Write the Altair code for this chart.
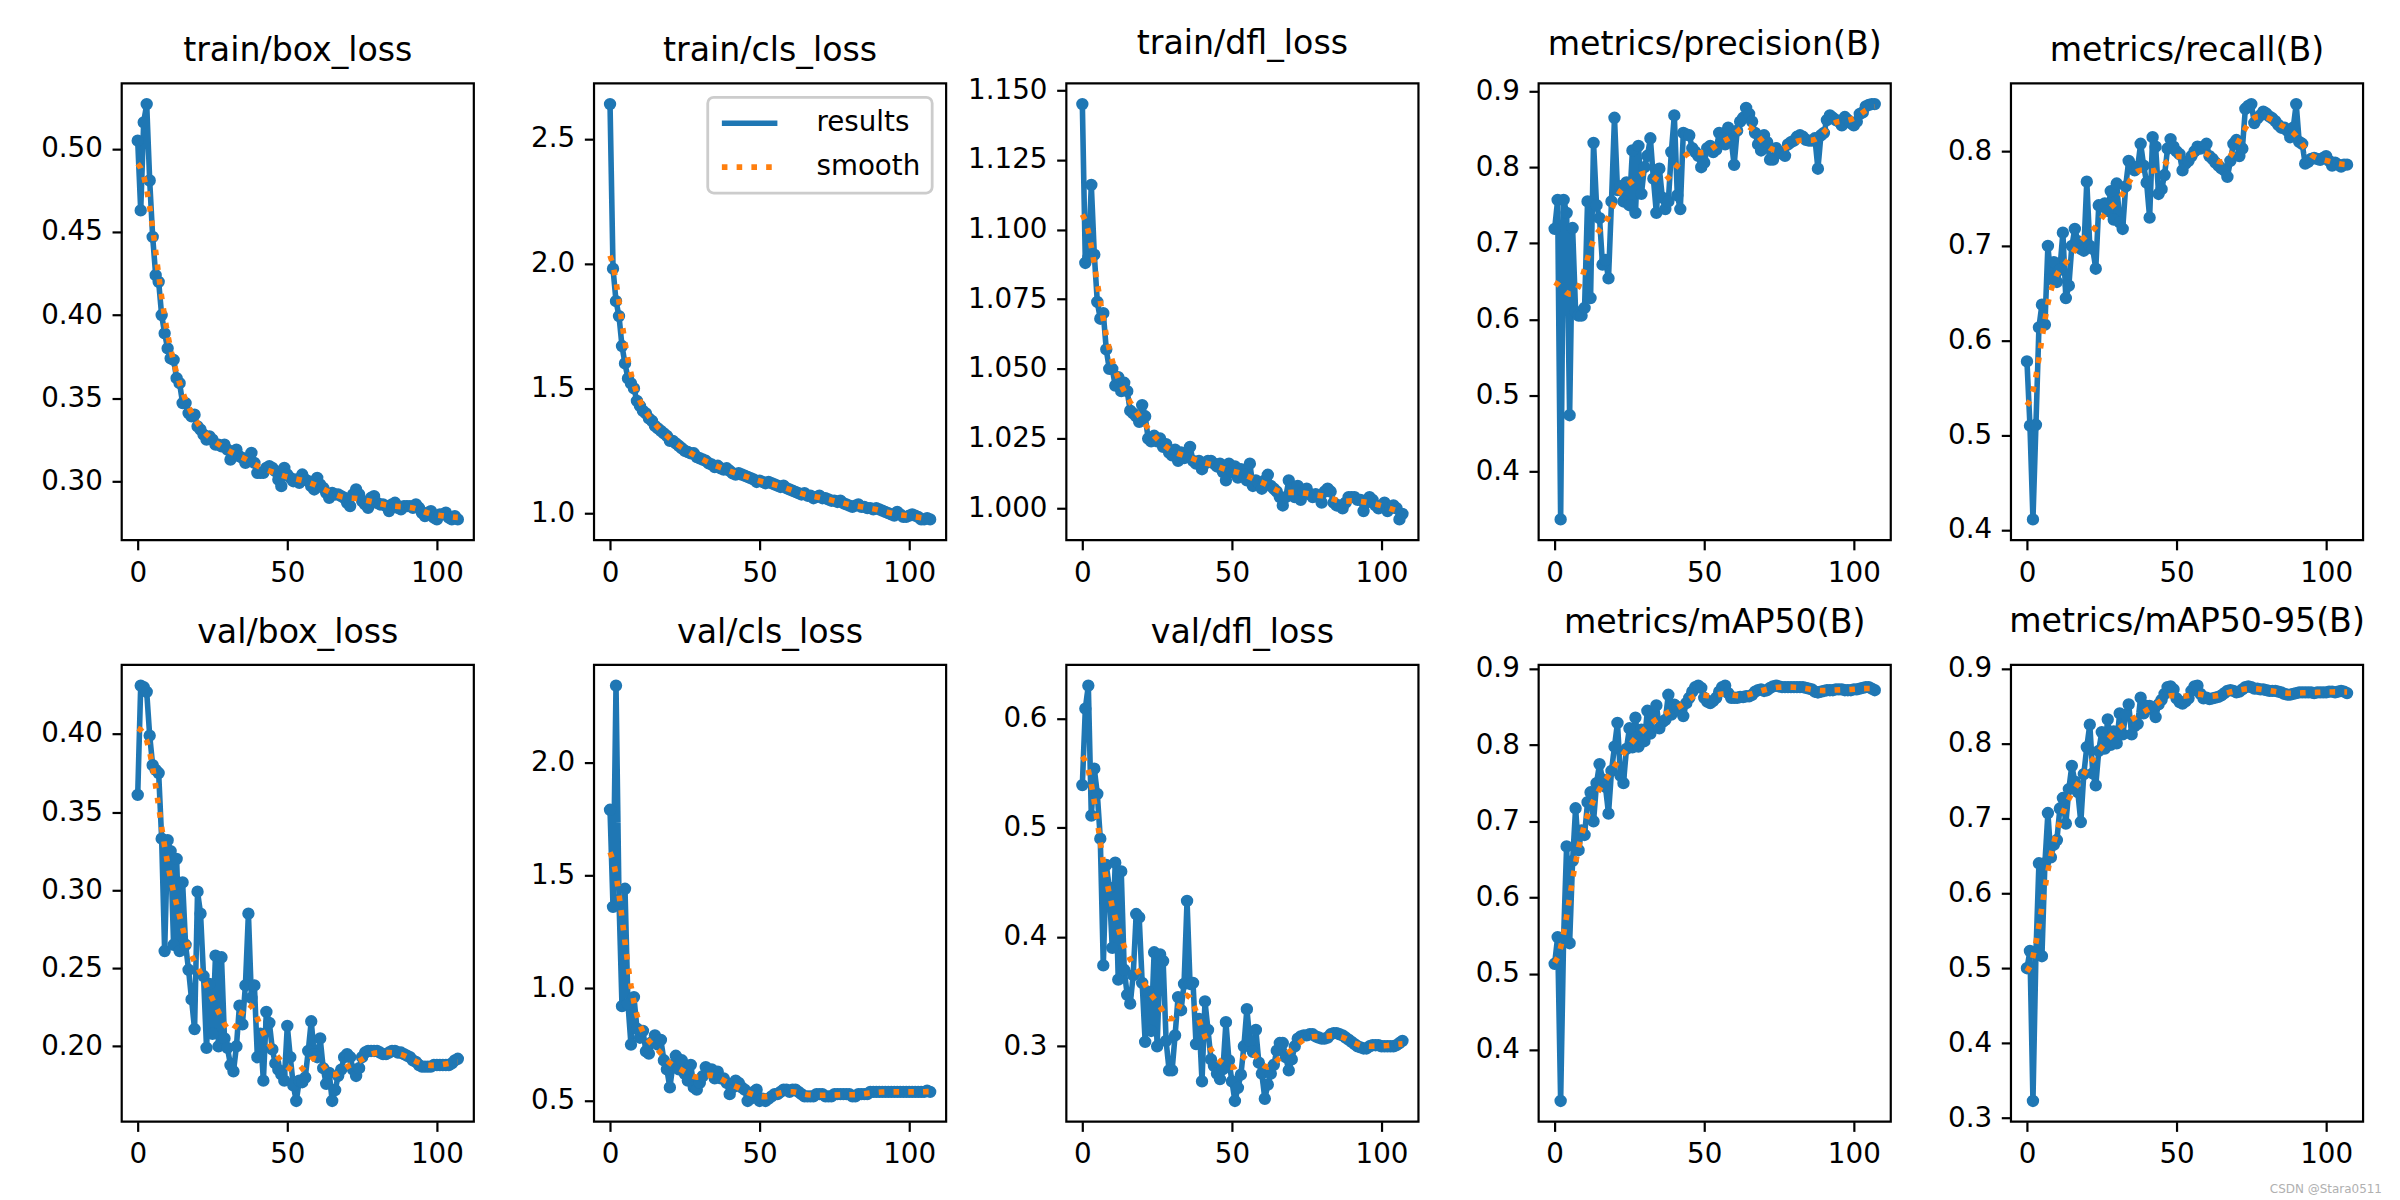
import altair as alt
import numpy as np
import pandas as pd

# ---------------- data ----------------
epochs = list(range(108))

titles = [
    "train/box_loss", "train/cls_loss", "train/dfl_loss",
    "metrics/precision(B)", "metrics/recall(B)",
    "val/box_loss", "val/cls_loss", "val/dfl_loss",
    "metrics/mAP50(B)", "metrics/mAP50-95(B)",
]

train_box = [0.505,0.463,0.516,0.527,0.481,0.447,0.424,0.420,0.400,0.389,
 0.380,0.374,0.373,0.362,0.359,0.347,0.347,0.341,0.339,0.340,
 0.333,0.331,0.328,0.325,0.327,0.325,0.322,0.322,0.321,0.322,
 0.319,0.313,0.316,0.319,0.315,0.314,0.311,0.314,0.317,0.311,
 0.305,0.305,0.305,0.308,0.309,0.308,0.306,0.301,0.297,0.308,
 0.304,0.302,0.300,0.301,0.299,0.304,0.301,0.300,0.297,0.295,
 0.302,0.298,0.296,0.293,0.290,0.293,0.292,0.292,0.291,0.290,
 0.287,0.285,0.292,0.295,0.292,0.288,0.286,0.284,0.290,0.291,
 0.287,0.286,0.286,0.285,0.282,0.286,0.287,0.284,0.283,0.285,
 0.285,0.285,0.284,0.286,0.284,0.281,0.279,0.281,0.282,0.278,
 0.277,0.280,0.280,0.281,0.278,0.277,0.279,0.277]

train_cls = [2.64,1.98,1.85,1.79,1.67,1.60,1.54,1.52,1.50,1.45,
 1.43,1.41,1.40,1.38,1.37,1.35,1.34,1.33,1.32,1.31,
 1.29,1.29,1.28,1.27,1.26,1.25,1.245,1.24,1.24,1.225,
 1.22,1.215,1.21,1.20,1.195,1.185,1.19,1.18,1.175,1.18,
 1.17,1.16,1.155,1.16,1.155,1.15,1.145,1.14,1.135,1.125,
 1.13,1.125,1.12,1.125,1.12,1.115,1.11,1.105,1.11,1.10,
 1.095,1.09,1.085,1.08,1.075,1.08,1.07,1.07,1.06,1.065,
 1.07,1.06,1.06,1.055,1.05,1.05,1.045,1.05,1.04,1.035,
 1.03,1.025,1.03,1.035,1.025,1.025,1.02,1.02,1.015,1.02,
 1.015,1.01,1.005,1.00,0.995,0.99,1.005,0.995,0.985,0.985,
 0.99,0.995,0.99,0.985,0.975,0.975,0.98,0.975]

train_dfl = [1.145,1.088,1.090,1.116,1.091,1.074,1.068,1.070,1.057,1.050,
 1.050,1.044,1.047,1.042,1.045,1.042,1.035,1.034,1.033,1.031,
 1.037,1.033,1.025,1.024,1.026,1.024,1.025,1.022,1.023,1.020,
 1.019,1.021,1.017,1.020,1.018,1.019,1.022,1.017,1.016,1.017,
 1.014,1.016,1.017,1.017,1.016,1.015,1.016,1.013,1.010,1.016,
 1.013,1.015,1.011,1.014,1.012,1.010,1.016,1.008,1.010,1.009,
 1.007,1.010,1.012,1.008,1.007,1.006,1.004,1.001,1.004,1.010,
 1.007,1.004,1.008,1.003,1.006,1.007,1.005,1.004,1.005,1.004,
 1.002,1.006,1.007,1.006,1.002,1.001,1.001,1.000,1.002,1.004,
 1.004,1.004,1.003,1.003,0.999,1.002,1.004,1.003,1.001,1.000,
 1.001,1.002,0.999,1.000,1.001,1.000,0.996,0.998]

precision = [0.719,0.757,0.337,0.757,0.740,0.474,0.720,0.610,0.605,0.605,
 0.615,0.755,0.628,0.832,0.750,0.733,0.672,0.678,0.654,0.755,
 0.865,0.770,0.775,0.755,0.780,0.750,0.822,0.740,0.828,0.765,
 0.800,0.815,0.838,0.785,0.740,0.798,0.760,0.745,0.755,0.820,
 0.868,0.763,0.745,0.845,0.843,0.842,0.825,0.820,0.815,0.800,
 0.806,0.825,0.828,0.820,0.823,0.845,0.838,0.830,0.852,0.836,
 0.803,0.848,0.860,0.865,0.878,0.870,0.860,0.845,0.830,0.822,
 0.842,0.833,0.810,0.810,0.825,0.820,0.818,0.815,0.830,0.833,
 0.835,0.840,0.842,0.840,0.836,0.835,0.835,0.838,0.798,0.842,
 0.845,0.862,0.868,0.865,0.862,0.860,0.855,0.866,0.862,0.858,
 0.855,0.860,0.870,0.872,0.880,0.882,0.883,0.883]

recall = [0.578,0.510,0.411,0.511,0.614,0.638,0.617,0.700,0.665,0.683,
 0.662,0.675,0.714,0.645,0.658,0.700,0.718,0.705,0.697,0.695,
 0.768,0.700,0.697,0.676,0.743,0.742,0.745,0.737,0.758,0.728,
 0.766,0.725,0.718,0.763,0.790,0.785,0.780,0.783,0.808,0.785,
 0.767,0.730,0.815,0.805,0.755,0.760,0.775,0.803,0.813,0.805,
 0.800,0.797,0.780,0.787,0.790,0.795,0.800,0.805,0.803,0.805,
 0.808,0.795,0.792,0.788,0.785,0.782,0.780,0.773,0.790,0.808,
 0.812,0.795,0.803,0.845,0.848,0.850,0.830,0.835,0.838,0.842,
 0.840,0.837,0.835,0.832,0.828,0.825,0.825,0.822,0.815,0.825,
 0.850,0.810,0.808,0.787,0.789,0.792,0.793,0.792,0.791,0.793,
 0.795,0.790,0.785,0.788,0.786,0.784,0.786,0.786]

val_box = [0.361,0.431,0.430,0.427,0.399,0.380,0.377,0.375,0.333,0.261,
 0.332,0.325,0.265,0.320,0.261,0.305,0.265,0.249,0.230,0.211,
 0.299,0.285,0.245,0.199,0.240,0.208,0.258,0.200,0.257,0.205,
 0.199,0.188,0.184,0.200,0.226,0.214,0.239,0.285,0.231,0.239,
 0.193,0.208,0.178,0.222,0.215,0.198,0.189,0.185,0.182,0.178,
 0.213,0.193,0.175,0.165,0.178,0.177,0.180,0.197,0.216,0.195,
 0.193,0.205,0.186,0.176,0.183,0.165,0.172,0.181,0.185,0.193,
 0.195,0.193,0.185,0.181,0.186,0.193,0.196,0.197,0.197,0.197,
 0.197,0.196,0.195,0.195,0.196,0.197,0.197,0.196,0.196,0.195,
 0.194,0.193,0.191,0.190,0.188,0.187,0.187,0.187,0.187,0.188,
 0.188,0.188,0.188,0.188,0.188,0.189,0.191,0.192]

val_cls = [1.79,1.36,2.34,1.39,0.92,1.44,0.93,0.75,0.96,0.82,
 0.78,0.81,0.72,0.71,0.76,0.79,0.75,0.77,0.68,0.64,
 0.56,0.66,0.70,0.64,0.68,0.62,0.59,0.66,0.56,0.55,
 0.58,0.61,0.65,0.63,0.64,0.60,0.63,0.60,0.60,0.58,
 0.53,0.56,0.59,0.58,0.56,0.55,0.50,0.51,0.54,0.55,
 0.50,0.51,0.50,0.51,0.52,0.53,0.53,0.54,0.55,0.55,
 0.54,0.55,0.55,0.54,0.53,0.52,0.52,0.52,0.52,0.53,
 0.53,0.53,0.52,0.52,0.52,0.53,0.53,0.53,0.53,0.53,
 0.53,0.52,0.52,0.53,0.53,0.53,0.53,0.54,0.54,0.54,
 0.54,0.54,0.54,0.54,0.54,0.54,0.54,0.54,0.54,0.54,
 0.54,0.54,0.54,0.54,0.54,0.54,0.545,0.54]

val_dfl = [0.539,0.609,0.630,0.511,0.554,0.531,0.490,0.374,0.466,0.445,
 0.390,0.468,0.361,0.460,0.370,0.347,0.339,0.365,0.421,0.418,
 0.358,0.304,0.350,0.314,0.386,0.300,0.384,0.378,0.305,0.278,
 0.278,0.310,0.345,0.333,0.357,0.433,0.357,0.358,0.302,0.325,
 0.268,0.341,0.315,0.288,0.282,0.275,0.270,0.279,0.322,0.287,
 0.268,0.250,0.262,0.274,0.300,0.334,0.305,0.295,0.315,0.285,
 0.275,0.252,0.265,0.275,0.283,0.296,0.303,0.303,0.290,0.278,
 0.288,0.300,0.307,0.309,0.310,0.310,0.311,0.311,0.309,0.308,
 0.307,0.307,0.308,0.311,0.312,0.312,0.311,0.310,0.308,0.306,
 0.304,0.302,0.300,0.299,0.298,0.298,0.300,0.301,0.301,0.301,
 0.300,0.300,0.300,0.300,0.300,0.301,0.303,0.305]

map50 = [0.513,0.548,0.333,0.548,0.667,0.540,0.648,0.717,0.662,0.688,
 0.682,0.725,0.738,0.700,0.750,0.775,0.755,0.745,0.710,0.766,
 0.798,0.829,0.760,0.750,0.795,0.822,0.797,0.836,0.798,0.820,
 0.805,0.845,0.815,0.840,0.852,0.822,0.830,0.833,0.866,0.840,
 0.853,0.850,0.845,0.838,0.855,0.862,0.870,0.876,0.878,0.875,
 0.862,0.857,0.855,0.858,0.862,0.870,0.876,0.878,0.868,0.862,
 0.862,0.862,0.863,0.863,0.864,0.864,0.866,0.870,0.872,0.873,
 0.871,0.872,0.875,0.877,0.878,0.877,0.876,0.876,0.876,0.876,
 0.876,0.876,0.876,0.876,0.875,0.874,0.873,0.870,0.869,0.870,
 0.871,0.872,0.872,0.872,0.873,0.873,0.873,0.872,0.872,0.872,
 0.873,0.873,0.874,0.875,0.876,0.876,0.874,0.872]

map5095 = [0.500,0.523,0.323,0.520,0.640,0.516,0.640,0.707,0.648,0.665,
 0.671,0.713,0.727,0.693,0.739,0.770,0.749,0.735,0.695,0.759,
 0.795,0.825,0.760,0.744,0.790,0.815,0.793,0.832,0.798,0.816,
 0.800,0.840,0.812,0.838,0.852,0.812,0.823,0.826,0.861,0.840,
 0.850,0.850,0.845,0.835,0.852,0.858,0.866,0.875,0.876,0.872,
 0.860,0.855,0.853,0.856,0.860,0.870,0.876,0.877,0.866,0.860,
 0.861,0.859,0.860,0.861,0.862,0.864,0.867,0.870,0.871,0.870,
 0.868,0.869,0.872,0.875,0.876,0.875,0.873,0.873,0.872,0.872,
 0.871,0.870,0.870,0.870,0.869,0.868,0.866,0.865,0.865,0.866,
 0.867,0.868,0.868,0.868,0.868,0.868,0.867,0.868,0.868,0.868,
 0.868,0.869,0.869,0.868,0.869,0.870,0.869,0.867]

series_values = [train_box, train_cls, train_dfl, precision, recall,
                 val_box, val_cls, val_dfl, map50, map5095]

y_ticks = [
    [0.30, 0.35, 0.40, 0.45, 0.50],
    [1.0, 1.5, 2.0, 2.5],
    [1.000, 1.025, 1.050, 1.075, 1.100, 1.125, 1.150],
    [0.4, 0.5, 0.6, 0.7, 0.8, 0.9],
    [0.4, 0.5, 0.6, 0.7, 0.8],
    [0.20, 0.25, 0.30, 0.35, 0.40],
    [0.5, 1.0, 1.5, 2.0],
    [0.3, 0.4, 0.5, 0.6],
    [0.4, 0.5, 0.6, 0.7, 0.8, 0.9],
    [0.3, 0.4, 0.5, 0.6, 0.7, 0.8, 0.9],
]
y_formats = [".2f", ".1f", ".3f", ".1f", ".1f", ".2f", ".1f", ".1f", ".1f", ".1f"]
x_ticks = [0, 50, 100]
legend_labels = ["results", "smooth"]
watermark = "CSDN @Stara0511"

# ---------------- styling ----------------
FONT = "DejaVu Sans"
BLUE = "#1f77b4"
ORANGE = "#ff7f0e"
LW = 5.6
PW, PH = 353, 458


def gaussian_smooth(y, sigma=3.0):
    r = int(4 * sigma + 0.5)
    k = np.exp(-0.5 * (np.arange(-r, r + 1) / sigma) ** 2)
    k /= k.sum()
    yp = np.pad(np.asarray(y, dtype=float), r, mode="symmetric")
    return np.convolve(yp, k, mode="valid")


x_lo, x_hi = min(epochs), max(epochs)
x_m = 0.05 * (x_hi - x_lo)


def panel(title, values, ticks, fmt, show_legend):
    v = np.asarray(values, dtype=float)
    sm = gaussian_smooth(v)
    lo = min(v.min(), sm.min())
    hi = max(v.max(), sm.max())
    m = 0.05 * (hi - lo)
    n = len(epochs)
    df = pd.DataFrame({
        "epoch": epochs + epochs,
        "value": list(v) + list(sm),
        "series": [legend_labels[0]] * n + [legend_labels[1]] * n,
    })
    x = alt.X("epoch:Q",
              scale=alt.Scale(domain=[x_lo - x_m, x_hi + x_m], nice=False, zero=False),
              axis=alt.Axis(values=x_ticks, format="d", title=None))
    y = alt.Y("value:Q",
              scale=alt.Scale(domain=[lo - m, hi + m], nice=False, zero=False),
              axis=alt.Axis(values=ticks, format=fmt, title=None))
    if show_legend:
        leg = alt.Legend(title=None, orient="top-right", offset=14, padding=11,
                         fillColor="white", strokeColor="#cccccc", cornerRadius=6,
                         labelFontSize=27.8, labelFont=FONT, labelColor="black",
                         symbolType="stroke", symbolSize=3100, symbolStrokeWidth=LW,
                         labelOffset=36, rowPadding=14, clipHeight=30, labelLimit=400)
    else:
        leg = None
    color = alt.Color("series:N",
                      scale=alt.Scale(domain=legend_labels, range=[BLUE, ORANGE]),
                      legend=leg)
    dash = alt.StrokeDash("series:N",
                          scale=alt.Scale(domain=legend_labels, range=[[1, 0], [5.6, 9.2]]),
                          legend=leg)
    base = alt.Chart(df).encode(x=x, y=y)
    res = base.transform_filter(alt.datum.series == legend_labels[0])
    smo = base.transform_filter(alt.datum.series == legend_labels[1])
    res_line = res.mark_line(strokeWidth=LW, strokeJoin="round").encode(color=color, strokeDash=dash)
    res_pts = res.mark_circle(size=154, opacity=1, color=BLUE)
    sm_line = smo.mark_line(strokeWidth=LW, strokeCap="butt").encode(color=color, strokeDash=dash)
    return alt.layer(res_line, res_pts, sm_line).properties(
        width=PW, height=PH,
        title=alt.TitleParams(title, fontSize=33.3, font=FONT, fontWeight="normal",
                              color="black", baseline="alphabetic", offset=-11,
                              anchor="middle"),
    )


charts = [panel(t, v, tk, f, i == 1)
          for i, (t, v, tk, f) in enumerate(zip(titles, series_values, y_ticks, y_formats))]

chart = (
    alt.concat(*charts, columns=5, spacing={"row": 125, "column": 120.5}, bounds="flush")
    .resolve_scale(color="independent", strokeDash="independent")
    .resolve_legend(color="independent", strokeDash="independent")
    .properties(
        padding={"left": 31, "top": 16, "right": 10, "bottom": 5},
        title=alt.TitleParams(watermark, orient="bottom", anchor="end", fontSize=12,
                              font=FONT, fontWeight="normal", color="#b0b0b0",
                              baseline="top", offset=14, dx=16),
    )
    .configure(font=FONT, background="white")
    .configure_view(stroke="black", strokeWidth=2.2)
    .configure_axis(domain=False, grid=False, ticks=True, tickColor="black",
                    tickSize=9.7, tickWidth=2.2, labelFontSize=27.8, labelFont=FONT,
                    labelColor="black", labelPadding=9.7, labelFlush=False,
                    labelOverlap=False)
    .configure_legend(strokeWidth=2.8)
)

chart.save("out.html", embed_options={"renderer": "svg", "actions": False})
